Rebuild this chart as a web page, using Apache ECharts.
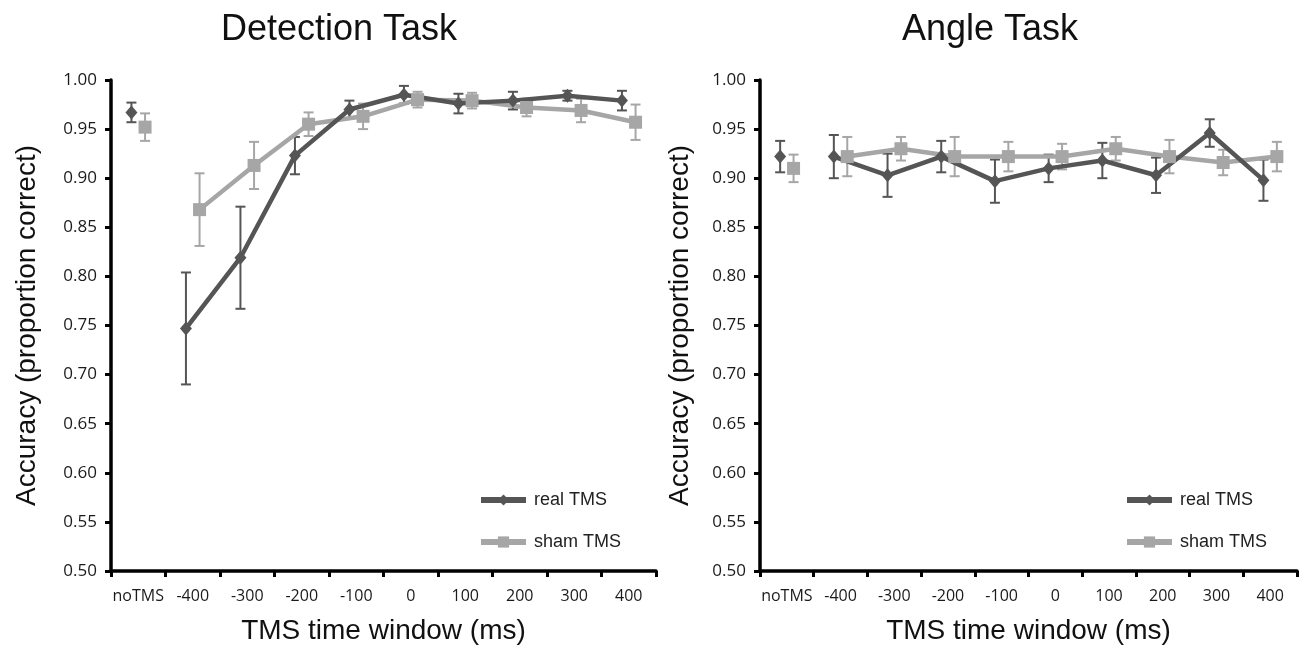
<!DOCTYPE html>
<html lang="en">
<head>
    <meta charset="UTF-8">
    <title>TMS accuracy</title>
    <script src="https://cdn.jsdelivr.net/npm/echarts@6.0.0/dist/echarts.min.js"></script>
    <style>
        html, body { margin: 0; padding: 0; background: #fff; }
    </style>
</head>
<body>
    <div id="chart" style="width: 1299px; height: 647px;"></div>
    <script>
        // categories on the x axis
        const categories = ['noTMS', '-400', '-300', '-200', '-100', '0', '100', '200', '300', '400'];
        const yTicks = [0.50, 0.55, 0.60, 0.65, 0.70, 0.75, 0.80, 0.85, 0.90, 0.95, 1.00];

        // Detection task (mean and error)
        const realDet = [0.967, 0.747, 0.819, 0.923, 0.970, 0.985, 0.976, 0.979, 0.984, 0.979];
        const realDetErr = [0.010, 0.057, 0.052, 0.019, 0.009, 0.009, 0.010, 0.009, 0.005, 0.010];
        const shamDet = [0.952, 0.868, 0.913, 0.955, 0.963, 0.980, 0.979, 0.972, 0.969, 0.957];
        const shamDetErr = [0.014, 0.037, 0.024, 0.012, 0.013, 0.008, 0.008, 0.009, 0.012, 0.018];

        // Angle task
        const realAng = [0.922, 0.922, 0.903, 0.922, 0.897, 0.910, 0.918, 0.903, 0.946, 0.898];
        const realAngErr = [0.016, 0.022, 0.022, 0.016, 0.022, 0.014, 0.018, 0.018, 0.014, 0.021];
        const shamAng = [0.910, 0.922, 0.930, 0.922, 0.922, 0.922, 0.930, 0.922, 0.916, 0.922];
        const shamAngErr = [0.014, 0.020, 0.012, 0.020, 0.015, 0.013, 0.012, 0.017, 0.013, 0.015];

        const realColor = '#555555';
        const shamColor = '#a6a6a6';
        const dodge = 0.125; // real left of the category centre, sham right

        const myChart = echarts.init(document.getElementById('chart'));

        // [x, y] points, x = category index +/- dodge
        function points(vals, off, from, to) {
            let out = [];
            for (let i = from; i < to; i++) {
                out.push([i + off, vals[i]]);
            }
            return out;
        }
        function bars(vals, errs, off) {
            return vals.map((v, i) => [i + off, v - errs[i], v + errs[i]]);
        }

        function errorSeries(vals, errs, off, color, xi, yi) {
            return {
                type: 'custom',
                xAxisIndex: xi,
                yAxisIndex: yi,
                silent: true,
                data: bars(vals, errs, off),
                renderItem: function (params, api) {
                    const x = api.value(0);
                    const lo = api.coord([x, api.value(1)]);
                    const hi = api.coord([x, api.value(2)]);
                    const w = 5;
                    const style = { stroke: color, lineWidth: 2 };
                    return {
                        type: 'group',
                        children: [
                            { type: 'line', shape: { x1: lo[0], y1: lo[1], x2: hi[0], y2: hi[1] }, style: style },
                            { type: 'line', shape: { x1: lo[0] - w, y1: lo[1], x2: lo[0] + w, y2: lo[1] }, style: style },
                            { type: 'line', shape: { x1: hi[0] - w, y1: hi[1], x2: hi[0] + w, y2: hi[1] }, style: style }
                        ]
                    };
                }
            };
        }

        function lineSeries(name, vals, off, color, symbol, size, xi, yi, from, to) {
            return {
                name: name,
                type: 'line',
                xAxisIndex: xi,
                yAxisIndex: yi,
                data: points(vals, off, from, to),
                symbol: symbol,
                symbolSize: size,
                itemStyle: { color: color },
                lineStyle: { color: color, width: 4.5 },
                animation: false
            };
        }

        function panelSeries(real, realErr, sham, shamErr, xi, yi) {
            return [
                errorSeries(sham, shamErr, dodge, shamColor, xi, yi),
                lineSeries('sham TMS', sham, dodge, shamColor, 'rect', 13, xi, yi, 1, 10),
                lineSeries('sham TMS', sham, dodge, shamColor, 'rect', 13, xi, yi, 0, 1),
                errorSeries(real, realErr, -dodge, realColor, xi, yi),
                lineSeries('real TMS', real, -dodge, realColor, 'diamond', [12, 14], xi, yi, 1, 10),
                lineSeries('real TMS', real, -dodge, realColor, 'diamond', [12, 14], xi, yi, 0, 1)
            ];
        }

        const catAxis = (gi) => ({
            type: 'category',
            gridIndex: gi,
            data: categories,
            boundaryGap: true,
            name: 'TMS time window (ms)',
            nameLocation: 'middle',
            nameGap: 46,
            nameTextStyle: { fontFamily: 'Liberation Sans', fontSize: 28, color: '#111' },
            axisLine: { onZero: false, lineStyle: { color: '#000', width: 3.5 } },
            axisTick: { show: true, alignWithLabel: false, length: 6, lineStyle: { color: '#000', width: 3 } },
            axisLabel: { fontFamily: 'Open Sans', fontSize: 16, color: '#1a1a1a', margin: 17, interval: 0 },
            splitLine: { show: false }
        });
        const hiddenX = (gi) => ({
            type: 'value',
            gridIndex: gi,
            min: -0.5,
            max: 9.5,
            show: false
        });
        const valAxis = (gi, gap) => ({
            type: 'value',
            gridIndex: gi,
            min: yTicks[0],
            max: yTicks[yTicks.length - 1],
            interval: 0.05,
            name: 'Accuracy (proportion correct)',
            nameLocation: 'middle',
            nameRotate: 90,
            nameGap: gap,
            nameTextStyle: { fontFamily: 'Liberation Sans', fontSize: 28, color: '#111' },
            axisLine: { show: true, onZero: false, lineStyle: { color: '#000', width: 3.5 } },
            axisTick: { show: true, length: 6, lineStyle: { color: '#000', width: 3 } },
            axisLabel: {
                fontFamily: 'Open Sans', fontSize: 17, color: '#1a1a1a', margin: 14,
                formatter: v => v.toFixed(2)
            },
            splitLine: { show: false }
        });

        const legendBase = {
            orient: 'vertical',
            itemWidth: 45,
            itemHeight: 14,
            itemGap: 24,
            lineStyle: { width: 6 },
            textStyle: { fontFamily: 'Liberation Sans', fontSize: 18, color: '#222', padding: [0, 0, 0, 3] },
            data: ['real TMS', 'sham TMS']
        };

        let option = {
            backgroundColor: '#fff',
            animation: false,
            title: [
                { text: 'Detection Task', left: 334, top: 7, textAlign: 'center',
                  textStyle: { fontFamily: 'Liberation Sans', fontSize: 36, fontWeight: 'normal', color: '#111' } },
                { text: 'Angle Task', left: 985, top: 7, textAlign: 'center',
                  textStyle: { fontFamily: 'Liberation Sans', fontSize: 36, fontWeight: 'normal', color: '#111' } }
            ],
            legend: [
                Object.assign({}, legendBase, { left: 473, top: 486 }),
                Object.assign({}, legendBase, { left: 1119, top: 486 })
            ],
            grid: [
                { left: 111, right: 643, top: 80, bottom: 76, containLabel: false, outerBoundsMode: 'none' },
                { left: 760, right: 2, top: 80, bottom: 76, containLabel: false, outerBoundsMode: 'none' }
            ],
            xAxis: [catAxis(0), catAxis(1), hiddenX(0), hiddenX(1)],
            yAxis: [valAxis(0, 70), valAxis(1, 66)],
            series: [].concat(
                panelSeries(realDet, realDetErr, shamDet, shamDetErr, 2, 0),
                panelSeries(realAng, realAngErr, shamAng, shamAngErr, 3, 1)
            )
        };
        myChart.setOption(option);
    </script>
</body>
</html>
